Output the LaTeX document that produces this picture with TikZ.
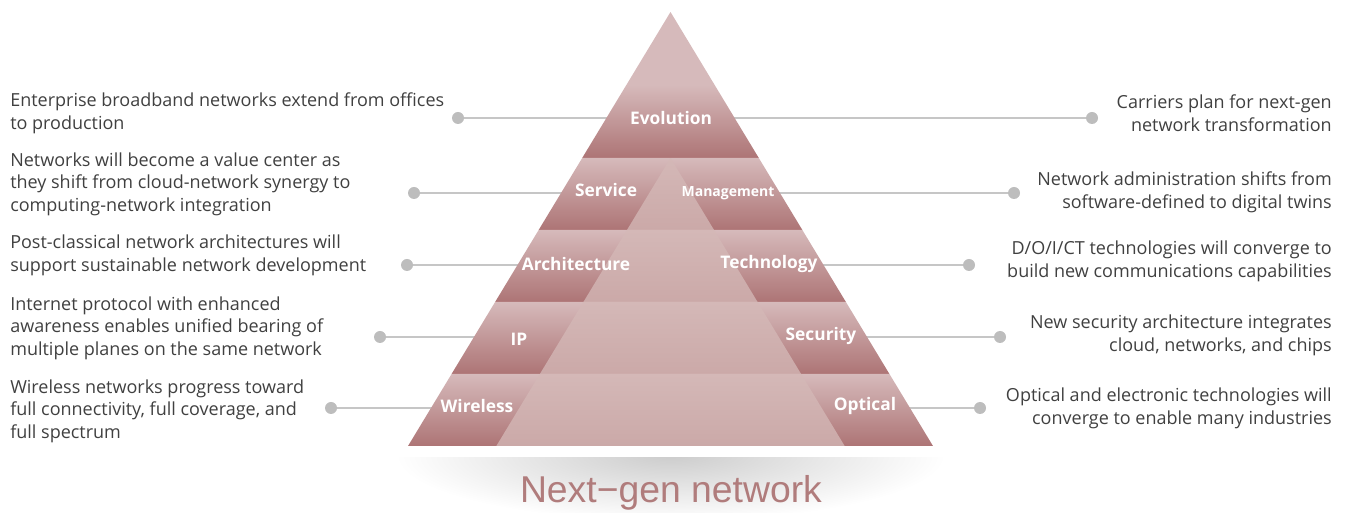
\documentclass[tikz,border=0pt]{standalone}
\usepackage{fontspec}
\setmainfont{Open Sans}
\newfontfamily\titlefont{Liberation Sans}
\usetikzlibrary{positioning}

\definecolor{pyrlight}{HTML}{D6BABB}
\definecolor{pyrdark}{HTML}{AD7475}
\definecolor{midlight}{HTML}{D4B8B7}
\definecolor{middark}{HTML}{CBA9A8}
\definecolor{dotgray}{HTML}{BDBDBD}
\definecolor{linegray}{HTML}{C6C6C6}
\definecolor{txtgray}{HTML}{404040}
\definecolor{titlerose}{HTML}{B07C7C}

\pgfdeclarelayer{background}
\pgfdeclarelayer{pyramid}
\pgfsetlayers{background,pyramid,main}

\begin{document}
\begin{tikzpicture}[x=0.75pt, y=0.75pt,
    desc/.style={text=txtgray, font=\fontsize{13.5}{17}\selectfont, inner sep=0pt},
    leftdesc/.style={desc, anchor=west, align=left},
    rightdesc/.style={desc, anchor=east, align=right},
    lvl/.style={text=white, font=\fontsize{13}{15}\selectfont\bfseries, inner sep=1pt},
    greydot/.style={circle, fill=dotgray, minimum size=9pt, inner sep=0pt},
    conn/.style={draw=linegray, line width=1.1pt}]
    \useasboundingbox (0,0) rectangle (1348,513);

    % Draw the pyramid: the top and four bands, each band with a lighter middle
    \begin{pgfonlayer}{pyramid}
    \shade[top color=pyrlight, bottom color=pyrdark, middle color=pyrlight]
        (670.5,501) -- (758.8,355) -- (582.2,355) -- cycle;
    \foreach \t in {158,230,302,374} {
        \pgfmathsetmacro\b{\t+72}
        \shade[top color=pyrlight, bottom color=pyrdark]
            ({670.5-(\t-12)*0.6048},{513-\t}) -- ({670.5+(\t-12)*0.6048},{513-\t})
            -- ({670.5+(\b-12)*0.6048},{513-\b}) -- ({670.5-(\b-12)*0.6048},{513-\b}) -- cycle;
        \shade[top color=midlight, bottom color=middark]
            ({670.5-(\t-158)*0.6048},{513-\t}) -- ({670.5+(\t-158)*0.6048},{513-\t})
            -- ({670.5+(\b-158)*0.6048},{513-\b}) -- ({670.5-(\b-158)*0.6048},{513-\b}) -- cycle;
    }
    \end{pgfonlayer}

    % Shadow under the pyramid
    \begin{pgfonlayer}{background}
    \begin{scope}
        \clip (380,0) rectangle (960,55);
        \shade[inner color=black!20, outer color=white] (670.5,58) ellipse (275 and 66);
    \end{scope}
    \end{pgfonlayer}

    % Labels on the pyramid
    \node[lvl] (evo) at (671,395) {Evolution};
    \node[lvl] (serv) at (606,323) {Service};
    \node[lvl, font=\fontsize{10.5}{12}\selectfont\bfseries] (mgmt) at (728,320) {Management};
    \node[lvl] (arch) at (576,249) {Architecture};
    \node[lvl] (tech) at (769,249) {Technology};
    \node[lvl] (ip) at (519,174) {IP};
    \node[lvl] (sec) at (821,177) {Security};
    \node[lvl] (wless) at (477,107) {Wireless};
    \node[lvl] (opt) at (865,107) {Optical};

    % Dots on both sides
    \node[greydot] (ldot1) at (458,395) {};
    \node[greydot] (ldot2) at (414,320) {};
    \node[greydot] (ldot3) at (407,248) {};
    \node[greydot] (ldot4) at (380,176) {};
    \node[greydot] (ldot5) at (331,105) {};
    \node[greydot] (rdot1) at (1092,395) {};
    \node[greydot] (rdot2) at (1014,320) {};
    \node[greydot] (rdot3) at (969,248) {};
    \node[greydot] (rdot4) at (1000,176) {};
    \node[greydot] (rdot5) at (980,105) {};

    % Descriptions on the left
    \node[leftdesc] (ltxt1) at (10,400) {Enterprise broadband networks extend from offices\\to production};
    \node[leftdesc] (ltxt2) at (10,329) {Networks will become a value center as\\they shift from cloud-network synergy to\\computing-network integration};
    \node[leftdesc] (ltxt3) at (10,257.5) {Post-classical network architectures will\\support sustainable network development};
    \node[leftdesc] (ltxt4) at (10,185) {Internet protocol with enhanced\\awareness enables unified bearing of\\multiple planes on the same network};
    \node[leftdesc] (ltxt5) at (10,102) {Wireless networks progress toward\\full connectivity, full coverage, and\\full spectrum};

    % Descriptions on the right
    \node[rightdesc] (rtxt1) at (1332,400) {Carriers plan for next-gen\\network transformation};
    \node[rightdesc] (rtxt2) at (1332,321) {Network administration shifts from\\software-defined to digital twins};
    \node[rightdesc] (rtxt3) at (1332,251.5) {D/O/I/CT technologies will converge to\\build new communications capabilities};
    \node[rightdesc] (rtxt4) at (1332,177.5) {New security architecture integrates\\cloud, networks, and chips};
    \node[rightdesc] (rtxt5) at (1332,104.5) {Optical and electronic technologies will\\converge to enable many industries};

    % Lines from the dots into the pyramid
    \begin{pgfonlayer}{background}
    \foreach \d/\l in {ldot1/evo, ldot2/serv, ldot3/arch, ldot4/ip, ldot5/wless,
                       rdot1/evo, rdot2/mgmt, rdot3/tech, rdot4/sec, rdot5/opt}
        \draw[conn] (\d) -- (\d -| \l);
    \end{pgfonlayer}

    % Title
    \node[text=titlerose, font=\titlefont\fontsize{28}{30}\selectfont] (title) at (671,20) {Next−gen network};
\end{tikzpicture}
\end{document}
